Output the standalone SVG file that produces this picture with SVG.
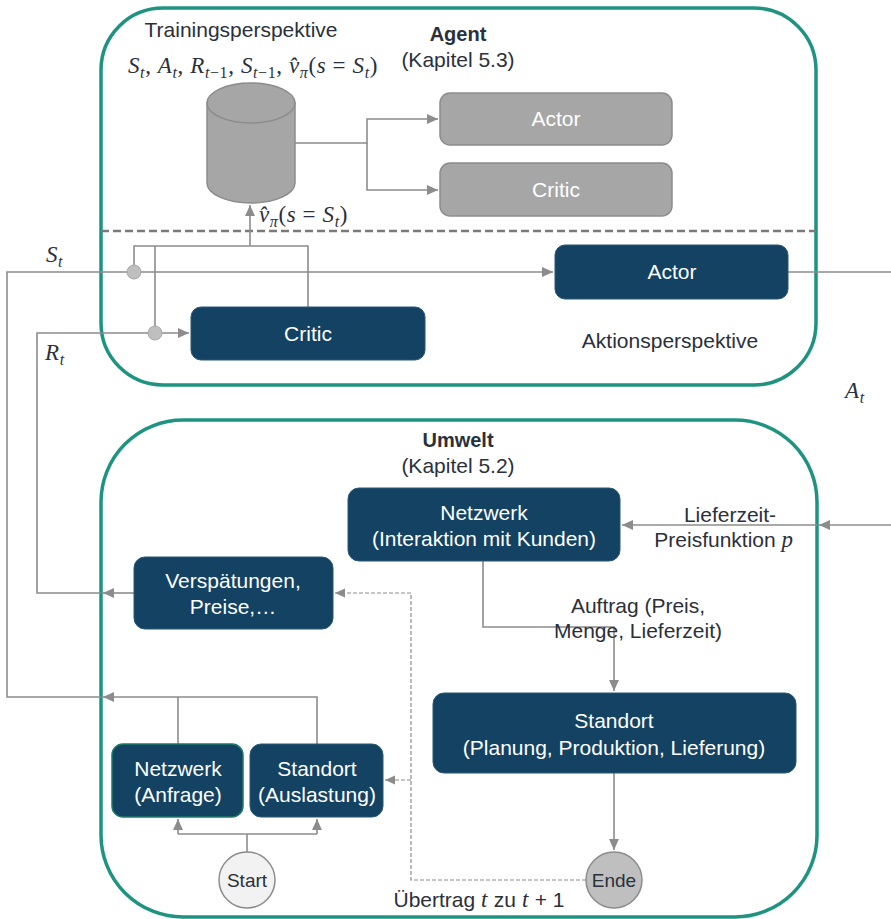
<svg xmlns="http://www.w3.org/2000/svg" width="891" height="919" viewBox="0 0 891 919">
<style>
.frame{fill:none;stroke:#1e9480;stroke-width:3.5}
.box{fill:#134263;stroke:#2a5775;stroke-width:1}
.gbox{fill:#a6a6a6;stroke:#8c8c8c;stroke-width:1.5}
.bt{font-family:"Liberation Sans",Arial,sans-serif;font-size:21px;fill:#ffffff;text-anchor:middle}
.lt{font-family:"Liberation Sans",Arial,sans-serif;font-size:21px;fill:#2b303b;text-anchor:middle}
.hd{font-family:"Liberation Sans",Arial,sans-serif;font-size:20px;font-weight:bold;fill:#2b303b;text-anchor:middle}
.m{font-family:"Liberation Serif","Times New Roman",serif;font-size:23px;font-style:italic;fill:#2b303b;letter-spacing:0.6px}
.up{font-style:normal}
.c{fill:none;stroke:#8c8c8c;stroke-width:1.6}
.d{fill:none;stroke:#8c8c8c;stroke-width:1.2;stroke-dasharray:4,2}
.ct{font-family:"Liberation Sans",Arial,sans-serif;font-size:19px;fill:#2b303b;text-anchor:middle}
</style>
<defs>
<marker id="ah" viewBox="0 0 10 10" refX="10" refY="5" markerWidth="11" markerHeight="11" markerUnits="userSpaceOnUse" orient="auto">
<path d="M0,0.5 L10,5 L0,9.5 z" fill="#8c8c8c"/>
</marker>
<marker id="ahs" viewBox="0 0 10 10" refX="10" refY="5" markerWidth="10" markerHeight="10" markerUnits="userSpaceOnUse" orient="auto">
<path d="M0,0.5 L10,5 L0,9.5 z" fill="#8c8c8c"/>
</marker>
</defs>

<g id="agent-frame">
<rect class="frame" x="101" y="8" width="715" height="377" rx="62" ry="62"/>
<text class="hd" x="458" y="41">Agent</text>
<text class="lt" x="458" y="67">(Kapitel 5.3)</text>
<text class="lt" x="241" y="37">Trainingsperspektive</text>
<text class="lt" x="670" y="348">Aktionsperspektive</text>
<line x1="101" y1="231" x2="816" y2="231" stroke="#7a7a7a" stroke-width="2.4" stroke-dasharray="8,4"/>
</g>

<g id="umwelt-frame">
<rect class="frame" x="101" y="420" width="716" height="497" rx="82" ry="82"/>
<text class="hd" x="458" y="447">Umwelt</text>
<text class="lt" x="458" y="473">(Kapitel 5.2)</text>
</g>

<g id="connectors">
<path class="c" d="M295,143 H367 V119 H438" marker-end="url(#ah)"/>
<path class="c" d="M367,143 V190 H438" marker-end="url(#ah)"/>
<path class="c" d="M250,246 V205" marker-end="url(#ah)"/>
<path class="c" d="M134,272 V246 H308 V307"/>
<path class="c" d="M155,333 V246"/>
<path class="c" d="M101,697 H7 V272 H553" marker-end="url(#ah)"/>
<path class="c" d="M317,744 V697 H103" marker-end="url(#ah)"/>
<path class="c" d="M178,744 V697"/>
<path class="c" d="M101,593 H37 V333 H189" marker-end="url(#ah)"/>
<path class="c" d="M134,593 H103" marker-end="url(#ah)"/>
<path class="c" d="M788,272 H891"/>
<path class="c" d="M891,525 H819" marker-end="url(#ah)"/>
<path class="c" d="M817,525 H622" marker-end="url(#ah)"/>
<path class="c" d="M483,561 V627 H614 V691" marker-end="url(#ah)"/>
<path class="c" d="M614,773 V850" marker-end="url(#ah)"/>
<path class="d" d="M586,880 H411 V593 H335" marker-end="url(#ahs)"/>
<path class="d" d="M411,780 H385" marker-end="url(#ahs)"/>
<path class="c" d="M247,852 V834"/>
<path class="c" d="M178,834 H317"/>
<path class="c" d="M178,834 V819" marker-end="url(#ah)"/>
<path class="c" d="M317,834 V819" marker-end="url(#ah)"/>
<circle cx="134" cy="272" r="7" fill="#bfbfbf" stroke="#a6a6a6" stroke-width="1"/>
<circle cx="155" cy="333" r="7" fill="#bfbfbf" stroke="#a6a6a6" stroke-width="1"/>
</g>

<g id="labels">
<text class="m" x="128" y="73">S<tspan font-size="16" dy="5">t</tspan><tspan class="up" dy="-5">, </tspan>A<tspan font-size="16" dy="5">t</tspan><tspan class="up" dy="-5">, </tspan>R<tspan font-size="16" dy="5">t<tspan class="up">−1</tspan></tspan><tspan class="up" dy="-5">, </tspan>S<tspan font-size="16" dy="5">t<tspan class="up">−1</tspan></tspan><tspan class="up" dy="-5">, </tspan>v̂<tspan font-size="16" dy="5">π</tspan><tspan class="up" dy="-5">(</tspan>s<tspan class="up"> = </tspan>S<tspan font-size="16" dy="5">t</tspan><tspan class="up" dy="-5">)</tspan></text>
<text class="m" x="259" y="222">v̂<tspan font-size="16" dy="5">π</tspan><tspan class="up" dy="-5">(</tspan>s<tspan class="up"> = </tspan>S<tspan font-size="16" dy="5">t</tspan><tspan class="up" dy="-5">)</tspan></text>
<text class="m" x="46" y="262">S<tspan font-size="16" dy="5">t</tspan></text>
<text class="m" x="45" y="360">R<tspan font-size="16" dy="5">t</tspan></text>
<text class="m" x="845" y="398">A<tspan font-size="16" dy="5">t</tspan></text>
<text class="lt" x="730" y="522">Lieferzeit-</text>
<text class="lt" x="724" y="547">Preisfunktion <tspan class="m" font-size="23">p</tspan></text>
<text class="lt" x="638" y="613">Auftrag (Preis,</text>
<text class="lt" x="638" y="638">Menge, Lieferzeit)</text>
<text class="lt" x="479" y="907">Übertrag <tspan class="m">t</tspan> zu <tspan class="m">t</tspan> + 1</text>
</g>

<g id="db">
<path d="M207,103 V183 A44,20 0 0 0 295,183 V103 Z" fill="#a6a6a6" stroke="#8c8c8c" stroke-width="1.5"/>
<ellipse cx="251" cy="103" rx="44" ry="20" fill="#a6a6a6" stroke="#8c8c8c" stroke-width="1.5"/>
</g>

<g id="actor-train">
<rect class="gbox" x="440" y="93" width="232" height="52" rx="10"/>
<text class="bt" x="556" y="126">Actor</text>
</g>
<g id="critic-train">
<rect class="gbox" x="440" y="163" width="232" height="53" rx="10"/>
<text class="bt" x="556" y="197">Critic</text>
</g>

<g id="actor">
<rect class="box" x="555" y="245" width="233" height="54" rx="10"/>
<text class="bt" x="672" y="279">Actor</text>
</g>
<g id="critic">
<rect class="box" x="191" y="307" width="234" height="53" rx="10"/>
<text class="bt" x="308" y="341">Critic</text>
</g>

<g id="netzwerk-kunden">
<rect class="box" x="348" y="488" width="272" height="73" rx="11"/>
<text class="bt" x="484" y="520">Netzwerk</text>
<text class="bt" x="484" y="546">(Interaktion mit Kunden)</text>
</g>
<g id="verspaetungen">
<rect class="box" x="134" y="557" width="199" height="72" rx="11"/>
<text class="bt" x="233" y="588">Verspätungen,</text>
<text class="bt" x="233" y="614">Preise,…</text>
</g>
<g id="standort-planung">
<rect class="box" x="433" y="693" width="363" height="80" rx="11"/>
<text class="bt" x="614" y="728">Standort</text>
<text class="bt" x="614" y="755">(Planung, Produktion, Lieferung)</text>
</g>
<g id="netzwerk-anfrage">
<rect class="box" x="112" y="744" width="131" height="73" rx="11" style="stroke:#1e7a6a;stroke-width:1.5"/>
<text class="bt" x="178" y="776">Netzwerk</text>
<text class="bt" x="178" y="802">(Anfrage)</text>
</g>
<g id="standort-auslastung">
<rect class="box" x="250" y="744" width="133" height="73" rx="11"/>
<text class="bt" x="317" y="776">Standort</text>
<text class="bt" x="317" y="802">(Auslastung)</text>
</g>
<g id="start">
<circle cx="247" cy="880" r="28" fill="#f2f2f2" stroke="#8c8c8c" stroke-width="1.5"/>
<text class="ct" x="247" y="887">Start</text>
</g>
<g id="ende">
<circle cx="614" cy="880" r="28" fill="#bfbfbf" stroke="#8c8c8c" stroke-width="1.5"/>
<text class="ct" x="614" y="887">Ende</text>
</g>
</svg>
